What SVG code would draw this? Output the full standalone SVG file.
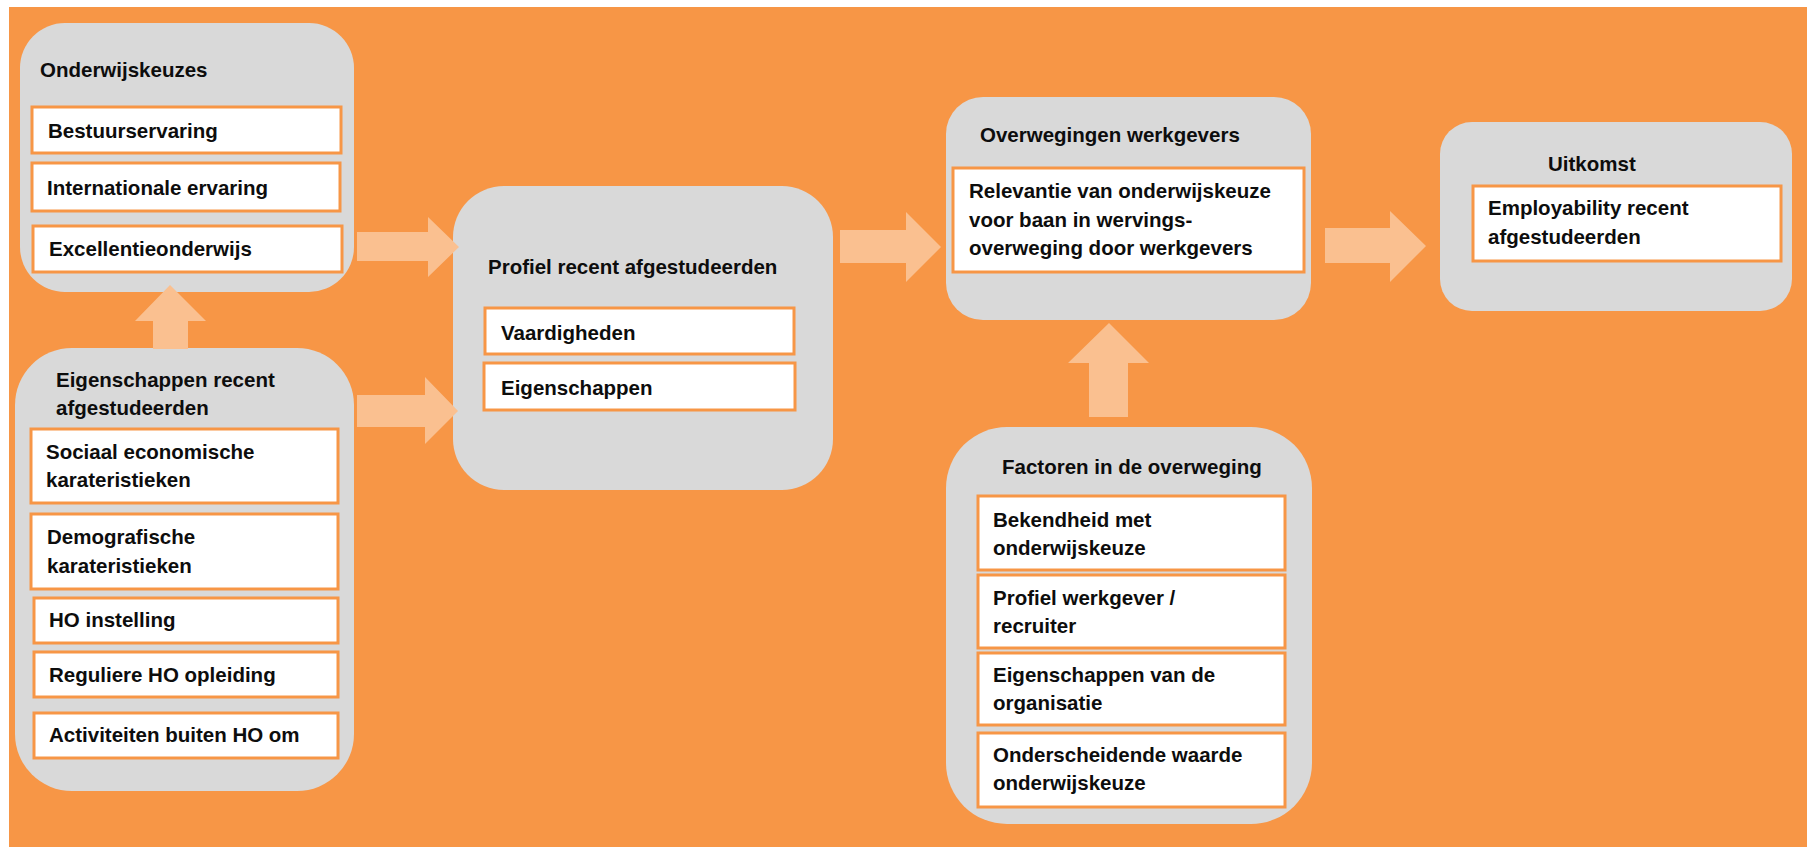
<svg xmlns="http://www.w3.org/2000/svg" width="1807" height="847" viewBox="0 0 1807 847">
<style>
.bg{fill:#F79646}
.box{fill:#D9D9D9}
.sub{fill:#FFFFFF;stroke:#F79646;stroke-width:3}
.arr{fill:#FAC090}
text{font-family:"Liberation Sans",Arial,sans-serif;font-weight:bold;font-size:20.5px;fill:#0d0d0d}
</style>
<rect x="0" y="0" width="1807" height="847" fill="#FFFFFF"/>
<rect class="bg" x="9" y="7" width="1798" height="840"/>

<g id="onderwijskeuzes">
<rect class="box" x="20" y="23" width="334" height="269" rx="45" ry="45"/>
<text x="40" y="77">Onderwijskeuzes</text>
<rect class="sub" x="32" y="107" width="309" height="46"/>
<text x="48" y="138">Bestuurservaring</text>
<rect class="sub" x="32" y="163" width="308" height="48"/>
<text x="47" y="195">Internationale ervaring</text>
<rect class="sub" x="33" y="226" width="309" height="46"/>
<text x="49" y="256">Excellentieonderwijs</text>
</g>

<g id="eigenschappen">
<rect class="box" x="15" y="348" width="339" height="443" rx="57" ry="57"/>
<text x="56" y="387">Eigenschappen recent</text>
<text x="56" y="415">afgestudeerden</text>
<rect class="sub" x="31" y="429" width="307" height="74"/>
<text x="46" y="459">Sociaal economische</text>
<text x="46" y="487">karateristieken</text>
<rect class="sub" x="31" y="514" width="307" height="75"/>
<text x="47" y="544">Demografische</text>
<text x="47" y="573">karateristieken</text>
<rect class="sub" x="34" y="598" width="304" height="45"/>
<text x="49" y="627">HO instelling</text>
<rect class="sub" x="34" y="652" width="304" height="45"/>
<text x="49" y="682">Reguliere HO opleiding</text>
<rect class="sub" x="34" y="713" width="304" height="45"/>
<text x="49" y="742">Activiteiten buiten HO om</text>
</g>

<g id="profiel">
<rect class="box" x="453" y="186" width="380" height="304" rx="51" ry="51"/>
<text x="488" y="274">Profiel recent afgestudeerden</text>
<rect class="sub" x="485" y="308" width="309" height="46"/>
<text x="501" y="340">Vaardigheden</text>
<rect class="sub" x="484" y="363" width="311" height="47"/>
<text x="501" y="395">Eigenschappen</text>
</g>

<g id="overwegingen">
<rect class="box" x="946" y="97" width="365" height="223" rx="37" ry="37"/>
<text x="980" y="142">Overwegingen werkgevers</text>
<rect class="sub" x="953" y="168" width="351" height="104"/>
<text x="969" y="198">Relevantie van onderwijskeuze</text>
<text x="969" y="227">voor baan in wervings-</text>
<text x="969" y="255">overweging door werkgevers</text>
</g>

<g id="factoren">
<rect class="box" x="946" y="427" width="366" height="397" rx="61" ry="61"/>
<text x="1002" y="474">Factoren in de overweging</text>
<rect class="sub" x="978" y="496" width="307" height="74"/>
<text x="993" y="527">Bekendheid met</text>
<text x="993" y="555">onderwijskeuze</text>
<rect class="sub" x="978" y="575" width="307" height="73"/>
<text x="993" y="605">Profiel werkgever /</text>
<text x="993" y="633">recruiter</text>
<rect class="sub" x="978" y="653" width="307" height="72"/>
<text x="993" y="682">Eigenschappen van de</text>
<text x="993" y="710">organisatie</text>
<rect class="sub" x="978" y="733" width="307" height="74"/>
<text x="993" y="762">Onderscheidende waarde</text>
<text x="993" y="790">onderwijskeuze</text>
</g>

<g id="uitkomst">
<rect class="box" x="1440" y="122" width="352" height="189" rx="32" ry="32"/>
<text x="1548" y="171">Uitkomst</text>
<rect class="sub" x="1473" y="186" width="308" height="75"/>
<text x="1488" y="215">Employability recent</text>
<text x="1488" y="244">afgestudeerden</text>
</g>

<g id="connectors">
<polygon class="arr" points="357,232 428,232 428,217 459,247 428,277 428,261 357,261"/>
<polygon class="arr" points="357,395 425,395 425,377 458,411 425,444 425,427 357,427"/>
<polygon class="arr" points="840,230 906,230 906,212 941,247 906,282 906,263 840,263"/>
<polygon class="arr" points="1325,228 1390,228 1390,211 1426,246 1390,282 1390,263 1325,263"/>
<polygon class="arr" points="153,349 153,321 135,321 170,285 206,321 188,321 188,349"/>
<polygon class="arr" points="1089,417 1089,363 1068,363 1109,323 1149,363 1128,363 1128,417"/>
</g>
</svg>
